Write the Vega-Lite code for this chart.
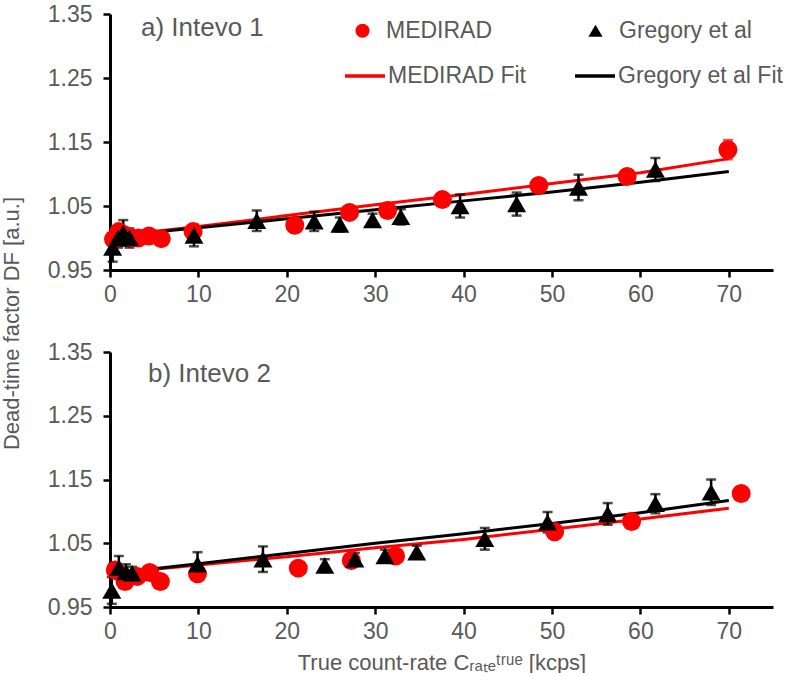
{
  "$schema": "https://vega.github.io/schema/vega-lite/v6.json",
  "padding": {"left": 0, "top": 3, "right": 0, "bottom": 0},
  "background": "white",
  "bounds": "flush",
  "spacing": 82,
  "config": {
    "view": {"stroke": null},
    "font": "Liberation Sans",
    "axis": {
      "domainColor": "black", "domainWidth": 3, "tickColor": "black", "tickWidth": 2.5, "tickSize": 7,
      "labelColor": "#595959", "labelFontSize": 23, "labelFont": "Liberation Sans",
      "titleColor": "#595959", "titleFontSize": 22, "titleFontWeight": "normal", "titleFont": "Liberation Sans",
      "grid": false, "labelFlush": false, "labelOverlap": false
    }
  },
  "resolve": {
    "scale": {"color": "independent", "shape": "independent", "stroke": "independent"},
    "legend": {"color": "independent", "shape": "independent", "stroke": "independent"}
  },
  "datasets": {
    "p1": [
      {"series": "MEDIRAD", "x": 0.4, "y": 0.998, "err": 0.006},
      {"series": "MEDIRAD", "x": 1.0, "y": 1.010, "err": 0.008},
      {"series": "MEDIRAD", "x": 1.6, "y": 1.005, "err": 0.006},
      {"series": "MEDIRAD", "x": 2.4, "y": 1.000, "err": 0.006},
      {"series": "MEDIRAD", "x": 3.2, "y": 1.000, "err": 0.006},
      {"series": "MEDIRAD", "x": 4.4, "y": 1.003, "err": 0.006},
      {"series": "MEDIRAD", "x": 5.8, "y": 0.999, "err": 0.006},
      {"series": "MEDIRAD", "x": 9.4, "y": 1.010, "err": 0.008},
      {"series": "MEDIRAD", "x": 20.9, "y": 1.020, "err": 0.008},
      {"series": "MEDIRAD", "x": 27.1, "y": 1.040, "err": 0.008},
      {"series": "MEDIRAD", "x": 31.4, "y": 1.043, "err": 0.008},
      {"series": "MEDIRAD", "x": 37.6, "y": 1.060, "err": 0.008},
      {"series": "MEDIRAD", "x": 48.5, "y": 1.082, "err": 0.008},
      {"series": "MEDIRAD", "x": 58.5, "y": 1.096, "err": 0.010},
      {"series": "MEDIRAD", "x": 69.9, "y": 1.138, "err": 0.015},
      {"series": "Gregory et al", "x": 0.3, "y": 0.985, "err": 0.022},
      {"series": "Gregory et al", "x": 0.9, "y": 1.000, "err": 0.015},
      {"series": "Gregory et al", "x": 1.5, "y": 1.008, "err": 0.020},
      {"series": "Gregory et al", "x": 2.2, "y": 1.000, "err": 0.015},
      {"series": "Gregory et al", "x": 9.5, "y": 1.004, "err": 0.017},
      {"series": "Gregory et al", "x": 16.6, "y": 1.027, "err": 0.016},
      {"series": "Gregory et al", "x": 23.1, "y": 1.026, "err": 0.015},
      {"series": "Gregory et al", "x": 26.0, "y": 1.021, "err": 0.011},
      {"series": "Gregory et al", "x": 29.7, "y": 1.028, "err": 0.010},
      {"series": "Gregory et al", "x": 32.9, "y": 1.033, "err": 0.012},
      {"series": "Gregory et al", "x": 39.6, "y": 1.050, "err": 0.018},
      {"series": "Gregory et al", "x": 46.0, "y": 1.053, "err": 0.018},
      {"series": "Gregory et al", "x": 53.0, "y": 1.079, "err": 0.020},
      {"series": "Gregory et al", "x": 61.7, "y": 1.107, "err": 0.018}
    ],
    "f1": [
      {"series": "MEDIRAD Fit", "x": 0.4, "y": 1.003},
      {"series": "MEDIRAD Fit", "x": 10, "y": 1.018},
      {"series": "MEDIRAD Fit", "x": 20, "y": 1.035},
      {"series": "MEDIRAD Fit", "x": 30, "y": 1.052},
      {"series": "MEDIRAD Fit", "x": 40, "y": 1.068},
      {"series": "MEDIRAD Fit", "x": 50, "y": 1.085},
      {"series": "MEDIRAD Fit", "x": 60, "y": 1.102},
      {"series": "MEDIRAD Fit", "x": 70, "y": 1.124},
      {"series": "Gregory et al Fit", "x": 0.4, "y": 1.003},
      {"series": "Gregory et al Fit", "x": 10, "y": 1.016},
      {"series": "Gregory et al Fit", "x": 20, "y": 1.030},
      {"series": "Gregory et al Fit", "x": 30, "y": 1.044},
      {"series": "Gregory et al Fit", "x": 40, "y": 1.058},
      {"series": "Gregory et al Fit", "x": 50, "y": 1.072},
      {"series": "Gregory et al Fit", "x": 60, "y": 1.087},
      {"series": "Gregory et al Fit", "x": 70, "y": 1.104}
    ],
    "p2": [
      {"series": "MEDIRAD", "x": 0.6, "y": 1.008, "err": 0.006},
      {"series": "MEDIRAD", "x": 1.7, "y": 0.990, "err": 0.006},
      {"series": "MEDIRAD", "x": 3.1, "y": 0.998, "err": 0.006},
      {"series": "MEDIRAD", "x": 4.5, "y": 1.004, "err": 0.006},
      {"series": "MEDIRAD", "x": 5.7, "y": 0.990, "err": 0.006},
      {"series": "MEDIRAD", "x": 9.9, "y": 1.002, "err": 0.006},
      {"series": "MEDIRAD", "x": 21.3, "y": 1.011, "err": 0.006},
      {"series": "MEDIRAD", "x": 27.3, "y": 1.023, "err": 0.006},
      {"series": "MEDIRAD", "x": 32.3, "y": 1.030, "err": 0.006},
      {"series": "MEDIRAD", "x": 50.3, "y": 1.068, "err": 0.006},
      {"series": "MEDIRAD", "x": 59.0, "y": 1.084, "err": 0.006},
      {"series": "MEDIRAD", "x": 71.4, "y": 1.128, "err": 0.006},
      {"series": "Gregory et al", "x": 0.2, "y": 0.976, "err": 0.021},
      {"series": "Gregory et al", "x": 1.0, "y": 1.012, "err": 0.018},
      {"series": "Gregory et al", "x": 1.8, "y": 1.005, "err": 0.012},
      {"series": "Gregory et al", "x": 2.5, "y": 1.003, "err": 0.010},
      {"series": "Gregory et al", "x": 9.9, "y": 1.017, "err": 0.019},
      {"series": "Gregory et al", "x": 17.3, "y": 1.025, "err": 0.020},
      {"series": "Gregory et al", "x": 24.3, "y": 1.015, "err": 0.010},
      {"series": "Gregory et al", "x": 27.7, "y": 1.025, "err": 0.010},
      {"series": "Gregory et al", "x": 31.1, "y": 1.030, "err": 0.010},
      {"series": "Gregory et al", "x": 34.7, "y": 1.036, "err": 0.010},
      {"series": "Gregory et al", "x": 42.4, "y": 1.057, "err": 0.017},
      {"series": "Gregory et al", "x": 49.5, "y": 1.083, "err": 0.016},
      {"series": "Gregory et al", "x": 56.3, "y": 1.096, "err": 0.017},
      {"series": "Gregory et al", "x": 61.7, "y": 1.112, "err": 0.015},
      {"series": "Gregory et al", "x": 68.0, "y": 1.130, "err": 0.020}
    ],
    "f2": [
      {"series": "MEDIRAD Fit", "x": 0.4, "y": 1.003},
      {"series": "MEDIRAD Fit", "x": 10, "y": 1.016},
      {"series": "MEDIRAD Fit", "x": 20, "y": 1.029},
      {"series": "MEDIRAD Fit", "x": 30, "y": 1.043},
      {"series": "MEDIRAD Fit", "x": 40, "y": 1.056},
      {"series": "MEDIRAD Fit", "x": 50, "y": 1.072},
      {"series": "MEDIRAD Fit", "x": 60, "y": 1.088},
      {"series": "MEDIRAD Fit", "x": 70, "y": 1.105},
      {"series": "Gregory et al Fit", "x": 0.4, "y": 1.003},
      {"series": "Gregory et al Fit", "x": 10, "y": 1.018},
      {"series": "Gregory et al Fit", "x": 20, "y": 1.034},
      {"series": "Gregory et al Fit", "x": 30, "y": 1.050},
      {"series": "Gregory et al Fit", "x": 40, "y": 1.065},
      {"series": "Gregory et al Fit", "x": 50, "y": 1.081},
      {"series": "Gregory et al Fit", "x": 60, "y": 1.098},
      {"series": "Gregory et al Fit", "x": 70, "y": 1.117}
    ],
    "lab1": [{"label": "a) Intevo 1"}],
    "lab2": [{"label": "b) Intevo 2"}]
  },
  "vconcat": [
    {
      "width": 663,
      "height": 256,
      "layer": [
        {
          "encoding": {
            "x": {"field": "x", "type": "quantitative", "scale": {"domain": [0, 75], "nice": false, "zero": false},
                  "axis": {"values": [0, 10, 20, 30, 40, 50, 60, 70], "title": null, "labelPadding": 6}},
            "y": {"field": "y", "type": "quantitative", "scale": {"domain": [0.95, 1.35], "nice": false, "zero": false},
                  "axis": {"values": [0.95, 1.05, 1.15, 1.25, 1.35], "format": ".2f", "labelPadding": 11,
                           "title": "Dead-time factor DF [a.u.]", "titleX": -99, "titleY": 309, "titleAngle": -90,
                           "titleAlign": "center", "titleBaseline": "middle"}}
          },
          "layer": [
            {
              "data": {"name": "f1"},
              "mark": {"type": "line", "strokeWidth": 3},
              "encoding": {
                "stroke": {"field": "series", "type": "nominal",
                           "scale": {"domain": ["MEDIRAD Fit", "Gregory et al Fit"], "range": ["#ff0000", "#000000"]},
                           "legend": {"orient": "none", "legendX": 233, "legendY": 40, "direction": "horizontal", "title": null,
                                      "labelFontSize": 23, "labelColor": "#595959", "labelFont": "Liberation Sans", "labelLimit": 400,
                                      "symbolSize": 1600, "symbolStrokeWidth": 3.5, "labelOffset": 1, "columnPadding": 42, "padding": 0}}
              }
            },
            {
              "data": {"name": "p1"},
              "transform": [{"filter": "datum.series === 'MEDIRAD'"}],
              "mark": {"type": "errorbar", "ticks": {"size": 10, "thickness": 2.5, "color": "#ff0000"}, "rule": {"color": "#ff0000", "strokeWidth": 2.5}},
              "encoding": {"yError": {"field": "err"}}
            },
            {
              "data": {"name": "p1"},
              "transform": [{"filter": "datum.series === 'Gregory et al'"}],
              "mark": {"type": "errorbar", "ticks": {"size": 10, "thickness": 2.5, "color": "black"}, "rule": {"color": "black", "strokeWidth": 2.5}},
              "encoding": {"yError": {"field": "err"}}
            },
            {
              "data": {"name": "p1"},
              "mark": {"type": "point", "filled": true, "opacity": 1, "size": 360},
              "encoding": {
                "color": {"field": "series", "type": "nominal",
                          "scale": {"domain": ["MEDIRAD", "Gregory et al"], "range": ["#ff0000", "#000000"]},
                          "legend": {"orient": "none", "legendX": 241, "legendY": 5, "direction": "horizontal", "title": null,
                                     "labelFontSize": 23, "labelColor": "#595959", "labelFont": "Liberation Sans", "labelLimit": 400,
                                     "symbolSize": 200, "symbolStrokeWidth": 0, "labelOffset": 12, "columnPadding": 91, "padding": 0}},
                "shape": {"field": "series", "type": "nominal",
                          "scale": {"domain": ["MEDIRAD", "Gregory et al"], "range": ["circle", "triangle-up"]}}
              }
            }
          ]
        },
        {
          "data": {"name": "lab1"},
          "mark": {"type": "text", "align": "left", "baseline": "middle", "fontSize": 26, "color": "#595959", "font": "Liberation Sans"},
          "encoding": {
            "x": {"datum": 3.5, "type": "quantitative",
                  "axis": {"values": [0, 10, 20, 30, 40, 50, 60, 70], "title": null, "labelPadding": 6}},
            "y": {"datum": 1.328, "type": "quantitative",
                  "axis": {"values": [0.95, 1.05, 1.15, 1.25, 1.35], "format": ".2f", "labelPadding": 11,
                           "title": "Dead-time factor DF [a.u.]", "titleX": -99, "titleY": 309, "titleAngle": -90,
                           "titleAlign": "center", "titleBaseline": "middle"}},
            "text": {"field": "label"}
          }
        }
      ]
    },
    {
      "width": 663,
      "height": 255,
      "layer": [
        {
          "encoding": {
            "x": {"field": "x", "type": "quantitative", "scale": {"domain": [0, 75], "nice": false, "zero": false},
                  "axis": {"values": [0, 10, 20, 30, 40, 50, 60, 70], "labelPadding": 6,
                           "title": "True count-rate Cᵣₐₜₑᵗʳᵘᵉ [kcps]", "titlePadding": 9}},
            "y": {"field": "y", "type": "quantitative", "scale": {"domain": [0.95, 1.35], "nice": false, "zero": false},
                  "axis": {"values": [0.95, 1.05, 1.15, 1.25, 1.35], "format": ".2f", "labelPadding": 11, "title": null}}
          },
          "layer": [
            {
              "data": {"name": "f2"},
              "mark": {"type": "line", "strokeWidth": 3},
              "encoding": {
                "stroke": {"field": "series", "type": "nominal",
                           "scale": {"domain": ["MEDIRAD Fit", "Gregory et al Fit"], "range": ["#ff0000", "#000000"]},
                           "legend": null}
              }
            },
            {
              "data": {"name": "p2"},
              "transform": [{"filter": "datum.series === 'MEDIRAD'"}],
              "mark": {"type": "errorbar", "ticks": {"size": 10, "thickness": 2.5, "color": "#ff0000"}, "rule": {"color": "#ff0000", "strokeWidth": 2.5}},
              "encoding": {"yError": {"field": "err"}}
            },
            {
              "data": {"name": "p2"},
              "transform": [{"filter": "datum.series === 'Gregory et al'"}],
              "mark": {"type": "errorbar", "ticks": {"size": 10, "thickness": 2.5, "color": "black"}, "rule": {"color": "black", "strokeWidth": 2.5}},
              "encoding": {"yError": {"field": "err"}}
            },
            {
              "data": {"name": "p2"},
              "mark": {"type": "point", "filled": true, "opacity": 1, "size": 360},
              "encoding": {
                "color": {"field": "series", "type": "nominal",
                          "scale": {"domain": ["MEDIRAD", "Gregory et al"], "range": ["#ff0000", "#000000"]}, "legend": null},
                "shape": {"field": "series", "type": "nominal",
                          "scale": {"domain": ["MEDIRAD", "Gregory et al"], "range": ["circle", "triangle-up"]}, "legend": null}
              }
            }
          ]
        },
        {
          "data": {"name": "lab2"},
          "mark": {"type": "text", "align": "left", "baseline": "middle", "fontSize": 26, "color": "#595959", "font": "Liberation Sans"},
          "encoding": {
            "x": {"datum": 4.3, "type": "quantitative",
                  "axis": {"values": [0, 10, 20, 30, 40, 50, 60, 70], "labelPadding": 6,
                           "title": "True count-rate Cᵣₐₜₑᵗʳᵘᵉ [kcps]", "titlePadding": 9}},
            "y": {"datum": 1.315, "type": "quantitative",
                  "axis": {"values": [0.95, 1.05, 1.15, 1.25, 1.35], "format": ".2f", "labelPadding": 11, "title": null}},
            "text": {"field": "label"}
          }
        }
      ]
    }
  ]
}
